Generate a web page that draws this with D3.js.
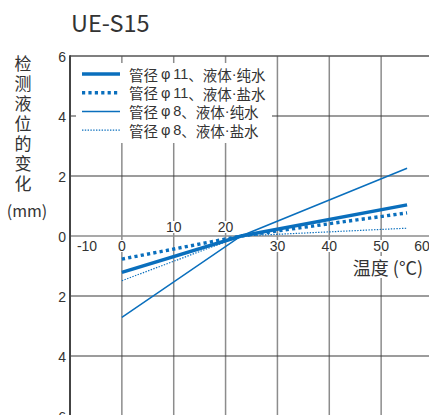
<!DOCTYPE html>
<html>
<head>
<meta charset="utf-8">
<script src="https://cdn.jsdelivr.net/npm/d3@7"></script>
<style>
  body { margin: 0; background: #fff; }
  text { fill: #333; }
</style>
</head>
<body>
<svg width="429" height="415"></svg>
<script>
// data
var temps = [0, 23, 55];
var d11Pure = [-1.21, 0, 1.04];
var d11Salt = [-0.77, 0, 0.77];
var d8Pure = [-2.71, 0, 2.26];
var d8Salt = [-1.49, 0, 0.26];
var pipeSizes = ["11", "11", "8", "8"];
var liquidNames = ["纯水", "盐水", "纯水", "盐水"];
var xTicksTop = [10, 20];
var xTicksBottom = [-10, 0, 30, 40, 50, 60];
var yTicks = [-6, -4, -2, 0, 2, 4, 6];

var svg = d3.select("svg");
var blue = "#0a6fbd";
var cjk = "'Noto Sans CJK SC', 'Noto Sans', sans-serif";
var num = "'Liberation Sans', Arial, sans-serif";

var x = d3.scaleLinear().domain([-10, 60]).range([70, 433]);
var y = d3.scaleLinear().domain([-6, 6]).range([416, 56]);

var styles = [
  {data: d11Pure, w: 3.4, dash: null},
  {data: d11Salt, w: 3.4, dash: "3.2,3.2"},
  {data: d8Pure, w: 1.5, dash: null},
  {data: d8Salt, w: 1.2, dash: "1.4,1.4"}
];

// vertical grid
svg.append("g").selectAll("line")
  .data(d3.range(0, 61, 10))
  .enter().append("line")
  .attr("x1", d => x(d)).attr("x2", d => x(d))
  .attr("y1", y(6)).attr("y2", y(-6))
  .attr("stroke", "#8c8c8c").attr("stroke-width", 1.5);

// horizontal grid
svg.append("g").selectAll("line")
  .data([-4, -2, 2, 4])
  .enter().append("line")
  .attr("x1", x(-10)).attr("x2", 429)
  .attr("y1", d => y(d)).attr("y2", d => y(d))
  .attr("stroke", "#3a3a3a").attr("stroke-width", 1.1);

// zero line
svg.append("line")
  .attr("x1", x(-10)).attr("x2", 429)
  .attr("y1", y(0)).attr("y2", y(0))
  .attr("stroke", "#8c8c8c").attr("stroke-width", 1.5);

// top border
svg.append("line")
  .attr("x1", x(-10)).attr("x2", 429)
  .attr("y1", y(6)).attr("y2", y(6))
  .attr("stroke", "#555").attr("stroke-width", 1.6);

// left axis
svg.append("line")
  .attr("x1", x(-10)).attr("x2", x(-10))
  .attr("y1", y(6) - 0.8).attr("y2", 415)
  .attr("stroke", "#444").attr("stroke-width", 2);

// helper: text with white knock-out behind it
function label(g, tx, ty, str, opts) {
  var t = g.append("text")
    .attr("x", tx).attr("y", ty)
    .attr("text-anchor", opts.anchor || "middle")
    .attr("dominant-baseline", "central")
    .style("font-family", opts.font || num)
    .style("font-size", opts.size || "14px")
    .text(str);
  if (opts.knock) {
    var b = t.node().getBBox();
    g.insert("rect", function() { return t.node(); })
      .attr("x", b.x - 1).attr("y", b.y + 2)
      .attr("width", b.width + 2).attr("height", b.height - 4)
      .attr("fill", "#fff");
  }
  return t;
}

// x tick labels
var xl = svg.append("g");
xTicksTop.forEach(function(d) { label(xl, x(d), y(0) - 9, d, {knock: true}); });
xTicksBottom.forEach(function(d) {
  var px = x(d);
  if (d === -10) px += 17;
  if (d === 60) px -= 11;
  label(xl, px, y(0) + 10, d, {knock: true});
});

// y tick labels (absolute values)
var yl = svg.append("g");
yTicks.forEach(function(d) { label(yl, 66, y(d) + 1, Math.abs(d), {anchor: "end"}); });

// axis titles
label(svg, 388, 267, "温度 (°C)", {font: cjk, size: "18px", knock: true});
svg.append("text")
  .attr("x", 23).attr("y", 55)
  .attr("writing-mode", "vertical-rl")
  .style("font-family", cjk)
  .style("font-size", "17px")
  .style("letter-spacing", "3px")
  .text("检测液位的变化");
label(svg, 27, 210, "(mm)", {font: cjk, size: "16px"});

// chart title
svg.append("text")
  .attr("x", 71).attr("y", 32)
  .style("font-family", cjk)
  .style("font-size", "23.5px")
  .text("UE-S15");

// series
var line = d3.line()
  .x(function(d, i) { return x(temps[i]); })
  .y(function(d) { return y(d); });

styles.forEach(function(s) {
  svg.append("path")
    .datum(s.data)
    .attr("d", line)
    .attr("fill", "none")
    .attr("stroke", blue)
    .attr("stroke-width", s.w)
    .attr("stroke-dasharray", s.dash);
});

// legend
var lg = svg.append("g");
lg.append("rect")
  .attr("x", 76).attr("y", 63)
  .attr("width", 196).attr("height", 80)
  .attr("fill", "#fff");
styles.forEach(function(s, i) {
  var ly = 74 + i * 18.7;
  lg.append("line")
    .attr("x1", 82).attr("x2", 120)
    .attr("y1", ly).attr("y2", ly)
    .attr("stroke", blue)
    .attr("stroke-width", s.w)
    .attr("stroke-dasharray", s.dash);
  var t = label(lg, 129, ly, "管径", {anchor: "start", font: cjk, size: "14.5px"});
  t.append("tspan").style("font-family", num).text("\u2009φ\u2009" + pipeSizes[i]);
  t.append("tspan").text("、液体");
  t.append("tspan").style("font-family", num).text("·");
  t.append("tspan").text(liquidNames[i]);
});
</script>
</body>
</html>
